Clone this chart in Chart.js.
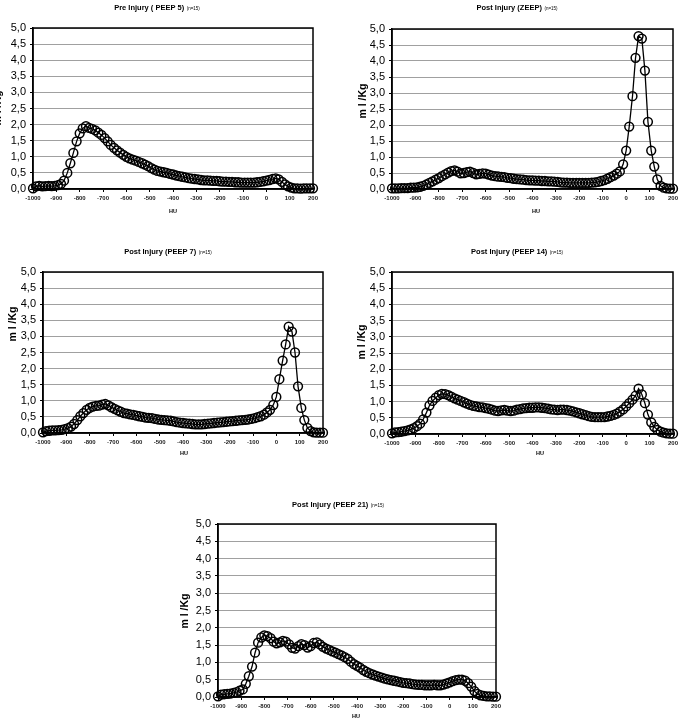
<!DOCTYPE html>
<html>
<head>
<meta charset="utf-8">
<title>Lung volume distribution by HU</title>
<script src="https://cdn.jsdelivr.net/npm/chart.js@4.4.1/dist/chart.umd.min.js"></script>
<style>
  html, body { margin: 0; padding: 0; background: #fff; overflow: hidden; }
  body { width: 685px; height: 721px; position: relative; }
  .panel { position: absolute; }
</style>
</head>
<body>
<div class="panel" id="p1"><canvas id="c1"></canvas></div>
<div class="panel" id="p2"><canvas id="c2"></canvas></div>
<div class="panel" id="p3"><canvas id="c3"></canvas></div>
<div class="panel" id="p4"><canvas id="c4"></canvas></div>
<div class="panel" id="p5"><canvas id="c5"></canvas></div>
<script>
// HU bins (x), shared by all five panels
const HU = [
  -1000, -987, -973, -960, -947, -933, -920, -907, -893, -880, -867, -853, -840, -827, -813,
  -800, -787, -773, -760, -747, -733, -720, -707, -693, -680, -667, -653, -640, -627, -613,
  -600, -587, -573, -560, -547, -533, -520, -507, -493, -480, -467, -453, -440, -427, -413,
  -400, -387, -373, -360, -347, -333, -320, -307, -293, -280, -267, -253, -240, -227, -213,
  -200, -187, -173, -160, -147, -133, -120, -107, -93, -80, -67, -53, -40, -27, -13,
  0, 13, 27, 40, 53, 67, 80, 93, 107, 120, 133, 147, 160, 173, 187,
  200
];

const X_TICKS = [-1000, -900, -800, -700, -600, -500, -400, -300, -200, -100, 0, 100, 200];
const Y_TICK_VALUES = [0, 0.5, 1, 1.5, 2, 2.5, 3, 3.5, 4, 4.5, 5];
const Y_TICK_LABELS = ['0,0', '0,5', '1,0', '1,5', '2,0', '2,5', '3,0', '3,5', '4,0', '4,5', '5,0'];

// ml/kg per HU bin
const PRE_PEEP5 = [
  0.02, 0.08, 0.1, 0.08, 0.09, 0.1, 0.09, 0.1, 0.12, 0.16, 0.26, 0.5, 0.8, 1.12, 1.48,
  1.73, 1.88, 1.95, 1.9, 1.87, 1.82, 1.75, 1.68, 1.58, 1.48, 1.37, 1.28, 1.2, 1.13, 1.06,
  1.0, 0.95, 0.91, 0.88, 0.84, 0.8, 0.76, 0.71, 0.65, 0.6, 0.56, 0.54, 0.52, 0.5, 0.47,
  0.45, 0.42, 0.4, 0.38, 0.36, 0.34, 0.32, 0.31, 0.3, 0.28, 0.27, 0.27, 0.26, 0.25, 0.25,
  0.24, 0.23, 0.23, 0.22, 0.22, 0.21, 0.21, 0.2, 0.2, 0.2, 0.2, 0.2, 0.21, 0.22, 0.24,
  0.26, 0.28, 0.31, 0.33, 0.3, 0.22, 0.14, 0.08, 0.04, 0.02, 0.02, 0.01, 0.02, 0.02, 0.02,
  0.02
];
const POST_ZEEP = [
  0.02, 0.02, 0.02, 0.03, 0.03, 0.03, 0.04, 0.04, 0.05, 0.07, 0.1, 0.14, 0.19, 0.24, 0.29,
  0.34, 0.4, 0.46, 0.51, 0.56, 0.58, 0.54, 0.49, 0.5, 0.53, 0.54, 0.5, 0.46, 0.47, 0.49,
  0.48, 0.45, 0.42, 0.4, 0.39, 0.38, 0.37, 0.35, 0.34, 0.32, 0.31, 0.3, 0.29, 0.28, 0.27,
  0.27, 0.26, 0.26, 0.25, 0.25, 0.24, 0.24, 0.23, 0.22, 0.21, 0.2, 0.2, 0.19, 0.19, 0.19,
  0.19, 0.19, 0.19, 0.19, 0.2, 0.21, 0.22, 0.25, 0.28, 0.32, 0.37, 0.42, 0.48, 0.55, 0.77,
  1.2, 1.95, 2.9, 4.1, 4.78, 4.7, 3.7, 2.1, 1.2, 0.7, 0.3, 0.1, 0.04, 0.02, 0.01,
  0.01
];
const POST_PEEP7 = [
  0.02, 0.06, 0.07, 0.08, 0.08, 0.09, 0.1, 0.12, 0.15, 0.2, 0.28, 0.4, 0.52, 0.62, 0.72,
  0.78, 0.82, 0.84, 0.85, 0.88, 0.9, 0.86, 0.8, 0.75, 0.7, 0.66, 0.62, 0.6, 0.58, 0.56,
  0.54, 0.52, 0.5, 0.48, 0.47, 0.46, 0.44, 0.42, 0.41, 0.4, 0.39, 0.38, 0.36, 0.34, 0.32,
  0.31, 0.3, 0.29, 0.28, 0.27, 0.27, 0.27, 0.28, 0.29, 0.3, 0.31, 0.32, 0.33, 0.34, 0.35,
  0.36, 0.37, 0.38, 0.39, 0.4, 0.41, 0.42, 0.44, 0.46, 0.49, 0.52, 0.57, 0.64, 0.72, 0.87,
  1.12, 1.67, 2.25, 2.75, 3.3, 3.15, 2.5, 1.45, 0.78, 0.4, 0.16, 0.06, 0.02, 0.01, 0.01,
  0.01
];
const POST_PEEP14 = [
  0.02, 0.05, 0.06, 0.07, 0.09, 0.11, 0.14, 0.18, 0.24, 0.32, 0.45, 0.66, 0.88, 1.02, 1.12,
  1.2, 1.24, 1.23, 1.2, 1.15, 1.1, 1.06, 1.02, 0.98, 0.94, 0.9, 0.87, 0.85, 0.83, 0.82,
  0.8, 0.78, 0.75, 0.72, 0.71, 0.73, 0.74, 0.72, 0.71, 0.72, 0.75, 0.77, 0.79, 0.8, 0.81,
  0.81, 0.82, 0.82, 0.81, 0.8, 0.78, 0.76, 0.75, 0.74, 0.75, 0.75, 0.74, 0.72, 0.7, 0.67,
  0.64, 0.61, 0.58, 0.55, 0.53, 0.52, 0.52, 0.52, 0.52, 0.54, 0.56, 0.59, 0.63, 0.69, 0.76,
  0.85, 0.95, 1.06, 1.18, 1.4, 1.22, 0.95, 0.6, 0.36, 0.22, 0.13, 0.07, 0.04, 0.02, 0.01,
  0.01
];
const POST_PEEP21 = [
  0.02, 0.07, 0.08, 0.09, 0.1, 0.12, 0.14, 0.18, 0.22, 0.38, 0.6, 0.88, 1.28, 1.57, 1.72,
  1.78, 1.76, 1.7, 1.6, 1.55, 1.58, 1.62, 1.6, 1.52, 1.42, 1.4, 1.47, 1.53, 1.5, 1.43,
  1.47, 1.56, 1.58, 1.52, 1.45, 1.4, 1.36, 1.32, 1.28, 1.24, 1.2, 1.15, 1.1, 1.02, 0.95,
  0.9, 0.85, 0.78, 0.73, 0.69, 0.65, 0.62, 0.59, 0.56, 0.53, 0.51, 0.49, 0.47, 0.45, 0.43,
  0.41, 0.4, 0.39, 0.37, 0.36, 0.35, 0.35, 0.34, 0.34, 0.34, 0.35, 0.34, 0.34, 0.36, 0.39,
  0.42, 0.46, 0.49, 0.5, 0.5, 0.47, 0.4, 0.3, 0.17, 0.09, 0.05, 0.03, 0.02, 0.02, 0.01,
  0.01
];

const N_NOTE = '(n=15)';
const Y_TITLE = 'm l /Kg';
const X_TITLE = 'HU';

const FONT = '"Liberation Sans", Arial, sans-serif';
const YW = 30, XH = 20;

const panels = [
  { id: 'p1', canvas: 'c1', title: 'Pre Injury ( PEEP 5)', values: PRE_PEEP5,
    box: { x: -20, y: 0, w: 345, h: 222 }, plot: { l: 33, t: 28, r: 313, b: 189 },
    titleAt: [157, 8], yTitleAt: [-2, 108], xTitleAt: [173, 211] },
  { id: 'p2', canvas: 'c2', title: 'Post Injury (ZEEP)', values: POST_ZEEP,
    box: { x: 335, y: 0, w: 350, h: 222 }, plot: { l: 392, t: 29, r: 673, b: 189 },
    titleAt: [517, 8], yTitleAt: [363, 101], xTitleAt: [536, 211] },
  { id: 'p3', canvas: 'c3', title: 'Post Injury (PEEP 7)', values: POST_PEEP7,
    box: { x: 0, y: 240, w: 335, h: 222 }, plot: { l: 43, t: 272, r: 323, b: 433 },
    titleAt: [168, 252], yTitleAt: [13, 324], xTitleAt: [184, 453] },
  { id: 'p4', canvas: 'c4', title: 'Post Injury (PEEP 14)', values: POST_PEEP14,
    box: { x: 335, y: 240, w: 350, h: 222 }, plot: { l: 392, t: 272, r: 673, b: 434 },
    titleAt: [517, 252], yTitleAt: [362, 342], xTitleAt: [540, 453] },
  { id: 'p5', canvas: 'c5', title: 'Post Injury (PEEP 21)', values: POST_PEEP21,
    box: { x: 160, y: 485, w: 350, h: 236 }, plot: { l: 218, t: 524, r: 496, b: 697 },
    titleAt: [338, 505], yTitleAt: [185, 611], xTitleAt: [356, 716] }
];

// frame around the plot area (top/right edges too)
const plotFrame = {
  id: 'plotFrame',
  beforeDatasetsDraw(chart) {
    const { ctx, chartArea: a } = chart;
    ctx.save();
    ctx.strokeStyle = '#000';
    ctx.lineWidth = 1.5;
    ctx.strokeRect(a.left, a.top, a.right - a.left, a.bottom - a.top);
    ctx.restore();
  }
};

// chart title, axis titles
const panelText = {
  id: 'panelText',
  afterDraw(chart, args, o) {
    const ctx = chart.ctx;
    const bx = o.boxX, by = o.boxY;
    ctx.save();
    ctx.fillStyle = '#000';
    ctx.textBaseline = 'middle';
    ctx.textAlign = 'left';
    const tFont = 'bold 7.5px ' + FONT, nFont = '4.5px ' + FONT;
    ctx.font = tFont;
    const tw = ctx.measureText(o.title).width;
    ctx.font = nFont;
    const nw = ctx.measureText(N_NOTE).width;
    const gap = 2.5;
    const x0 = o.titleX - bx - (tw + gap + nw) / 2;
    const y0 = o.titleY - by;
    ctx.font = tFont;
    ctx.fillText(o.title, x0, y0);
    ctx.font = nFont;
    ctx.fillText(N_NOTE, x0 + tw + gap, y0 + 0.5);

    ctx.textAlign = 'center';
    ctx.font = 'bold 5.5px ' + FONT;
    ctx.fillText(X_TITLE, o.xTitleX - bx, o.xTitleY - by);

    ctx.translate(o.yTitleX - bx, o.yTitleY - by);
    ctx.rotate(-Math.PI / 2);
    ctx.font = 'bold 10.5px ' + FONT;
    ctx.fillText(Y_TITLE, 0, 0);
    ctx.restore();
  }
};

panels.forEach(p => {
  const div = document.getElementById(p.id);
  div.style.left = p.box.x + 'px';
  div.style.top = p.box.y + 'px';
  div.style.width = p.box.w + 'px';
  div.style.height = p.box.h + 'px';

  new Chart(document.getElementById(p.canvas), {
    type: 'line',
    data: {
      datasets: [{
        label: p.title,
        data: HU.map((h, i) => ({ x: h, y: p.values[i] })),
        borderColor: '#000',
        borderWidth: 1.3,
        pointRadius: 4.4,
        pointBorderWidth: 1.5,
        pointBorderColor: '#000',
        pointBackgroundColor: 'rgba(255,255,255,0)',
        tension: 0,
        clip: false
      }]
    },
    options: {
      responsive: true,
      maintainAspectRatio: false,
      animation: false,
      events: [],
      layout: {
        padding: {
          left: p.plot.l - p.box.x - YW,
          top: p.plot.t - p.box.y,
          right: p.box.x + p.box.w - p.plot.r,
          bottom: p.box.y + p.box.h - p.plot.b - XH
        }
      },
      scales: {
        x: {
          type: 'linear', min: -1000, max: 200,
          afterBuildTicks: s => { s.ticks = X_TICKS.map(v => ({ value: v })); },
          afterFit: s => { s.height = XH; },
          grid: { drawOnChartArea: false, tickLength: 3, tickColor: '#000', lineWidth: 1 },
          border: { color: '#000', width: 1.5 },
          ticks: { font: { family: FONT, size: 6, weight: 'bold' }, color: '#222', padding: 3, maxRotation: 0, autoSkip: false, callback: v => String(v) }
        },
        y: {
          min: 0, max: 5,
          afterBuildTicks: s => { s.ticks = Y_TICK_VALUES.map(v => ({ value: v })); },
          afterFit: s => { s.width = YW; },
          grid: { color: '#a0a0a0', lineWidth: 1, tickLength: 3, tickColor: '#000' },
          border: { color: '#000', width: 1.5 },
          ticks: { font: { family: FONT, size: 11 }, color: '#000', padding: 4, autoSkip: false, callback: (v, i) => Y_TICK_LABELS[i] }
        }
      },
      plugins: {
        legend: { display: false },
        tooltip: { enabled: false },
        panelText: {
          title: p.title, boxX: p.box.x, boxY: p.box.y,
          titleX: p.titleAt[0], titleY: p.titleAt[1],
          yTitleX: p.yTitleAt[0], yTitleY: p.yTitleAt[1],
          xTitleX: p.xTitleAt[0], xTitleY: p.xTitleAt[1]
        }
      }
    },
    plugins: [plotFrame, panelText]
  });
});
</script>
</body>
</html>
